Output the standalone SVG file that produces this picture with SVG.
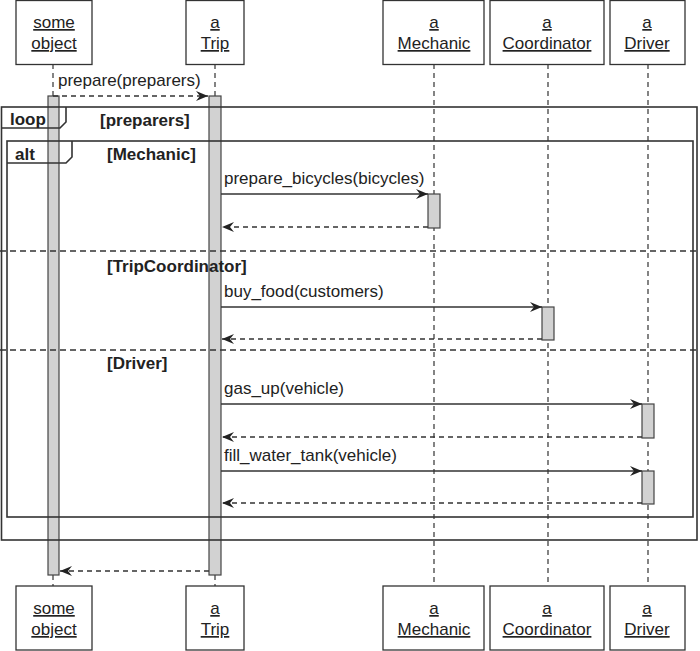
<svg xmlns="http://www.w3.org/2000/svg" width="700" height="651" viewBox="0 0 700 651">
<style>
.box{fill:#fff;stroke:#333;stroke-width:1.3}
.life{stroke:#333;stroke-width:1.2;stroke-dasharray:5 4;fill:none}
.act{fill:#d2d2d2;stroke:#444;stroke-width:1.2}
.frame{fill:none;stroke:#333;stroke-width:1.6}
.sep{stroke:#333;stroke-width:1.3;stroke-dasharray:6 4}
.msg{stroke:#333;stroke-width:1.3;fill:none}
.ret{stroke:#333;stroke-width:1.3;fill:none;stroke-dasharray:5 4}
.t{font-family:"Liberation Sans",Arial,sans-serif;font-size:17px;fill:#222}
.u{text-decoration:underline}
.m{font-family:"Liberation Sans",Arial,sans-serif;font-size:17px;fill:#222}
.b{font-family:"Liberation Sans",Arial,sans-serif;font-size:17px;font-weight:bold;fill:#222}
</style>
<defs>
<marker id="ah" viewBox="0 0 12 10" refX="12" refY="5" markerWidth="12" markerHeight="10" markerUnits="userSpaceOnUse" orient="auto">
<path d="M0,0 L12,5 L0,10 L4,5 Z" fill="#222"/>
</marker>
</defs>
<g id="lifelines">
<line class="life" x1="53" y1="64" x2="53" y2="96"/>
<line class="life" x1="53" y1="575" x2="53" y2="586"/>
<line class="life" x1="215" y1="64" x2="215" y2="96"/>
<line class="life" x1="215" y1="575" x2="215" y2="586"/>
<line class="life" x1="434" y1="64" x2="434" y2="586"/>
<line class="life" x1="548" y1="64" x2="548" y2="586"/>
<line class="life" x1="648" y1="64" x2="648" y2="586"/>
</g>
<g id="activations">
<rect class="act" x="48" y="96" width="11" height="479"/>
<rect class="act" x="209" y="96" width="12" height="479"/>
<rect class="act" x="428" y="194" width="12" height="34"/>
<rect class="act" x="542" y="307" width="12" height="33"/>
<rect class="act" x="642" y="404" width="12" height="34"/>
<rect class="act" x="642" y="471" width="12" height="33"/>
</g>
<g id="frames">
<rect class="frame" x="1.5" y="107" width="695.5" height="433"/>
<path class="frame" d="M1.5,128 H60 L66,122 V107" />
<text class="b" x="10" y="125">loop</text>
<text class="b" x="100" y="126">[preparers]</text>
<rect class="frame" x="7" y="141" width="686" height="376"/>
<path class="frame" d="M7,163 H66 L72,157 V141" />
<text class="b" x="15" y="160">alt</text>
<text class="b" x="107" y="160">[Mechanic]</text>
<line class="sep" x1="0" y1="251" x2="700" y2="251"/>
<text class="b" x="107" y="272">[TripCoordinator]</text>
<line class="sep" x1="0" y1="350" x2="700" y2="350"/>
<text class="b" x="107" y="369">[Driver]</text>
</g>
<g id="connectors">
<line class="ret" x1="53" y1="96" x2="208" y2="96" marker-end="url(#ah)"/>
<text class="m" x="58" y="86">prepare(preparers)</text>
<line class="msg" x1="221" y1="194" x2="428" y2="194" marker-end="url(#ah)"/>
<text class="m" x="224" y="184">prepare_bicycles(bicycles)</text>
<line class="ret" x1="428" y1="227" x2="222" y2="227" marker-end="url(#ah)"/>
<line class="msg" x1="221" y1="307" x2="542" y2="307" marker-end="url(#ah)"/>
<text class="m" x="224" y="297">buy_food(customers)</text>
<line class="ret" x1="542" y1="339" x2="222" y2="339" marker-end="url(#ah)"/>
<line class="msg" x1="221" y1="404" x2="642" y2="404" marker-end="url(#ah)"/>
<text class="m" x="224" y="394">gas_up(vehicle)</text>
<line class="ret" x1="642" y1="437" x2="222" y2="437" marker-end="url(#ah)"/>
<line class="msg" x1="221" y1="471" x2="642" y2="471" marker-end="url(#ah)"/>
<text class="m" x="224" y="461">fill_water_tank(vehicle)</text>
<line class="ret" x1="642" y1="503" x2="222" y2="503" marker-end="url(#ah)"/>
<line class="ret" x1="209" y1="571" x2="60" y2="571" marker-end="url(#ah)"/>
</g>
<g id="node-someobject-top">
<rect class="box" x="16" y="0.5" width="76" height="64"/>
<text class="t u" x="54" y="28" text-anchor="middle">some</text>
<text class="t u" x="54" y="49" text-anchor="middle">object</text>
</g>
<g id="node-trip-top">
<rect class="box" x="186" y="0.5" width="58" height="64"/>
<text class="t u" x="215" y="28" text-anchor="middle">a</text>
<text class="t u" x="215" y="49" text-anchor="middle">Trip</text>
</g>
<g id="node-mechanic-top">
<rect class="box" x="383" y="0.5" width="101" height="64"/>
<text class="t u" x="434" y="28" text-anchor="middle">a</text>
<text class="t u" x="434" y="49" text-anchor="middle">Mechanic</text>
</g>
<g id="node-coordinator-top">
<rect class="box" x="490" y="0.5" width="114" height="64"/>
<text class="t u" x="547" y="28" text-anchor="middle">a</text>
<text class="t u" x="547" y="49" text-anchor="middle">Coordinator</text>
</g>
<g id="node-driver-top">
<rect class="box" x="610" y="0.5" width="75" height="64"/>
<text class="t u" x="647" y="28" text-anchor="middle">a</text>
<text class="t u" x="647" y="49" text-anchor="middle">Driver</text>
</g>
<g id="node-someobject-bottom">
<rect class="box" x="16" y="586" width="76" height="64"/>
<text class="t u" x="54" y="614" text-anchor="middle">some</text>
<text class="t u" x="54" y="635" text-anchor="middle">object</text>
</g>
<g id="node-trip-bottom">
<rect class="box" x="186" y="586" width="58" height="64"/>
<text class="t u" x="215" y="614" text-anchor="middle">a</text>
<text class="t u" x="215" y="635" text-anchor="middle">Trip</text>
</g>
<g id="node-mechanic-bottom">
<rect class="box" x="383" y="586" width="101" height="64"/>
<text class="t u" x="434" y="614" text-anchor="middle">a</text>
<text class="t u" x="434" y="635" text-anchor="middle">Mechanic</text>
</g>
<g id="node-coordinator-bottom">
<rect class="box" x="490" y="586" width="114" height="64"/>
<text class="t u" x="547" y="614" text-anchor="middle">a</text>
<text class="t u" x="547" y="635" text-anchor="middle">Coordinator</text>
</g>
<g id="node-driver-bottom">
<rect class="box" x="610" y="586" width="75" height="64"/>
<text class="t u" x="647" y="614" text-anchor="middle">a</text>
<text class="t u" x="647" y="635" text-anchor="middle">Driver</text>
</g>
</svg>
